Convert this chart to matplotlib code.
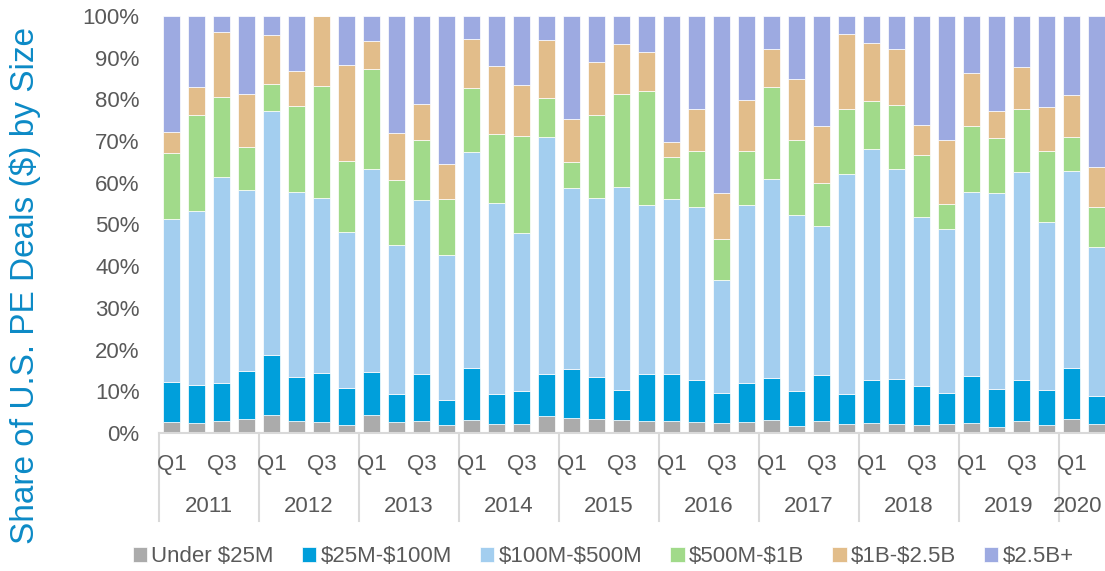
import matplotlib
matplotlib.use("Agg")
import matplotlib.pyplot as plt
import matplotlib.transforms as mtransforms
import numpy as np

plt.rcParams['font.family'] = ['Liberation Sans', 'DejaVu Sans']

# quarters 2011 Q1 .. 2020 Q2
years = ['2011', '2012', '2013', '2014', '2015', '2016', '2017', '2018', '2019', '2020']
quarters_per_year = [4, 4, 4, 4, 4, 4, 4, 4, 4, 2]

categories = ['Under $25M', '$25M-$100M', '$100M-$500M', '$500M-$1B', '$1B-$2.5B', '$2.5B+']
colors = ['#ABABAB', '#009FDB', '#A3CEEF', '#A1DA8A', '#E2BD8A', '#9DAAE1']

# share (%) of each size bucket per quarter
under_25m = [2.6, 2.4, 2.8, 3.3, 4.4, 2.8, 2.7, 2.0, 4.2, 2.6, 2.9, 1.9, 3.1, 2.2, 2.2, 4.1, 3.7, 3.3, 3.0,
             2.8, 2.8, 2.6, 2.3, 2.6, 3.0, 1.7, 2.8, 2.1, 2.5, 2.2, 1.8, 2.2, 2.3, 1.4, 2.8, 1.8, 3.4, 2.1]
m25_100 = [9.7, 9.0, 9.1, 11.5, 14.3, 10.6, 11.7, 8.8, 10.5, 6.7, 11.3, 6.0, 12.6, 7.2, 7.9, 10.1, 11.6, 10.2, 7.3,
           11.4, 11.4, 10.0, 7.3, 9.4, 10.3, 8.3, 11.1, 7.2, 10.3, 10.8, 9.4, 7.3, 11.3, 9.2, 9.9, 8.6, 12.2, 6.7]
m100_500 = [39.0, 41.9, 49.4, 43.5, 58.5, 44.4, 42.0, 37.4, 48.6, 35.9, 41.7, 34.7, 51.6, 45.8, 37.8, 56.7, 43.5, 42.9, 48.6,
            40.5, 42.0, 41.7, 27.1, 42.6, 47.5, 42.2, 35.8, 52.7, 55.2, 50.3, 40.5, 39.3, 44.3, 47.0, 50.0, 40.3, 47.2, 35.9]
m500_1b = [15.8, 23.0, 19.2, 10.2, 6.4, 20.5, 26.9, 17.1, 23.9, 15.4, 14.3, 13.6, 15.5, 16.5, 23.3, 9.4, 6.3, 19.8, 22.5,
           27.2, 10.0, 13.3, 9.9, 13.0, 22.2, 18.0, 10.3, 15.6, 11.5, 15.4, 14.9, 6.0, 15.8, 13.1, 14.9, 17.0, 8.2, 9.6]
b1_25 = [5.1, 6.7, 15.7, 12.8, 11.9, 8.6, 16.7, 23.0, 6.8, 11.3, 8.8, 8.2, 11.8, 16.4, 12.2, 13.9, 10.2, 12.7, 11.8,
         9.4, 3.5, 10.2, 11.0, 12.3, 9.0, 14.7, 13.5, 18.1, 14.0, 13.5, 7.2, 15.4, 12.6, 6.6, 10.1, 10.5, 10.1, 9.6]
b25_plus = [27.8, 17.0, 3.8, 18.7, 4.5, 13.1, 0.0, 11.7, 6.0, 28.1, 21.0, 35.6, 5.4, 11.9, 16.6, 5.8, 24.7, 11.1, 6.8,
            8.7, 30.3, 22.2, 42.4, 20.1, 8.0, 15.1, 26.5, 4.3, 6.5, 7.8, 26.2, 29.8, 13.7, 22.7, 12.3, 21.8, 18.9, 36.1]

series = [under_25m, m25_100, m100_500, m500_1b, b1_25, b25_plus]

grey_text = '#595959'

fig = plt.figure(figsize=(11.05, 5.71), dpi=100)
ax = fig.add_axes([0.1439, 0.2417, 0.8597, 0.7303])

n = len(under_25m)
x = np.arange(n)
bottom = np.zeros(n)
for vals, col, name in zip(series, colors, categories):
    vals = np.array(vals)
    # escape $ so the legend text is not read as mathtext
    ax.bar(x, vals, 0.68, bottom=bottom, color=col, edgecolor='white', linewidth=0.5,
           label=name.replace('$', r'\$'))
    bottom += vals

ax.set_xlim(-0.5, n - 0.5)
ax.set_ylim(0, 100)
ax.set_yticks(np.arange(0, 101, 10))
ax.set_yticklabels([f'{v}%' for v in range(0, 101, 10)], fontsize=16, color=grey_text)
ax.tick_params(axis='y', length=0, pad=14)
for s in ['top', 'right', 'left']:
    ax.spines[s].set_visible(False)
ax.spines['bottom'].set_color('#D9D9D9')
ax.spines['bottom'].set_linewidth(1.5)

# multi-level category axis: Q1/Q3 labels, year labels, separators
ax.set_xticks([])
trans = mtransforms.blended_transform_factory(ax.transData, ax.transAxes)
start = 0
for yr, nq in zip(years, quarters_per_year):
    for q in range(nq):
        if q % 2 == 0:
            ax.text(start + q, -0.075, f'Q{q + 1}', transform=trans, ha='center', va='center',
                    fontsize=16, color=grey_text)
    xc = start + (nq - 1) / 2
    if nq < 4:
        xc = start + 0.25
    ax.text(xc, -0.177, yr, transform=trans, ha='center', va='center', fontsize=16, color=grey_text)
    ax.plot([start - 0.5, start - 0.5], [0, -0.21], transform=trans, color='#D9D9D9',
            linewidth=1.5, clip_on=False)
    start += nq
ax.plot([start - 0.5, start - 0.5], [0, -0.21], transform=trans, color='#D9D9D9',
        linewidth=1.5, clip_on=False)

fig.text(0.023, 0.5, 'Share of U.S. PE Deals ($) by Size', rotation=90, ha='center', va='center',
         fontsize=24, color='#0C8AC6')

fig.legend(loc='lower center', bbox_to_anchor=(0.546, -0.028), ncol=6, frameon=False,
           fontsize=16, labelcolor=grey_text, handlelength=0.65, handleheight=0.65,
           handletextpad=0.2, columnspacing=1.25)

fig.savefig('out.png', dpi=100)
